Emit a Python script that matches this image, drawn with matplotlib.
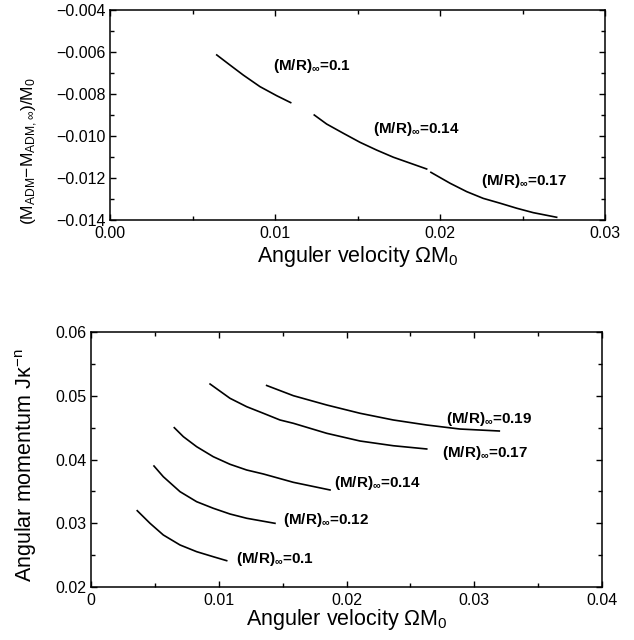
import matplotlib
matplotlib.use("Agg")
import matplotlib.pyplot as plt
from matplotlib.ticker import MultipleLocator

plt.rcParams['font.family'] = ['Liberation Sans', 'DejaVu Sans']
plt.rcParams['mathtext.fontset'] = 'custom'
plt.rcParams['mathtext.rm'] = 'Liberation Sans'
plt.rcParams['mathtext.it'] = 'Liberation Sans:italic'
plt.rcParams['mathtext.bf'] = 'Liberation Sans:bold'
plt.rcParams['mathtext.default'] = 'regular'

# ---------------- data: top panel (mass difference vs angular velocity)
top_seg1_x = [0.00647, 0.00727, 0.00808, 0.00909, 0.01010, 0.01095]
top_seg1_y = [-0.00614, -0.00662, -0.00710, -0.00765, -0.00808, -0.00841]
top_seg2_x = [0.01238, 0.01313, 0.01414, 0.01515, 0.01616, 0.01717, 0.01919]
top_seg2_y = [-0.00900, -0.00943, -0.00987, -0.01030, -0.01067, -0.01101, -0.01157]
top_seg3_x = [0.01945, 0.02061, 0.02162, 0.02262, 0.02364, 0.02465, 0.02565, 0.02707]
top_seg3_y = [-0.01173, -0.01225, -0.01265, -0.01297, -0.01320, -0.01344, -0.01365, -0.01387]
top_labels = ['0.1', '0.14', '0.17']
top_label_x = [0.00990, 0.01592, 0.02247]
top_label_y = [-0.00686, -0.00987, -0.01233]
top_xticks = [0.00, 0.01, 0.02, 0.03]
top_xticklabels = ['0.00', '0.01', '0.02', '0.03']
top_yticks = [-0.014, -0.012, -0.010, -0.008, -0.006, -0.004]
top_yticklabels = ['\u22120.014', '\u22120.012', '\u22120.010', '\u22120.008', '\u22120.006', '\u22120.004']

# ---------------- data: bottom panel (angular momentum vs angular velocity)
c010_x = [0.00362, 0.00462, 0.00566, 0.00697, 0.00827, 0.00957, 0.01062]
c010_y = [0.03197, 0.02999, 0.02816, 0.02659, 0.02554, 0.02475, 0.02413]
c012_x = [0.00493, 0.00566, 0.00697, 0.00827, 0.00957, 0.01088, 0.01219, 0.01440]
c012_y = [0.03898, 0.03730, 0.03495, 0.03338, 0.03235, 0.03145, 0.03078, 0.02999]
c014_x = [0.00652, 0.00723, 0.00827, 0.00957, 0.01088, 0.01219, 0.01349, 0.01584, 0.01871]
c014_y = [0.04499, 0.04358, 0.04201, 0.04044, 0.03925, 0.03835, 0.03773, 0.03642, 0.03522]
c017_x = [0.00932, 0.01088, 0.01219, 0.01349, 0.01479, 0.01584, 0.01845, 0.02106, 0.02366, 0.02628]
c017_y = [0.05184, 0.04960, 0.04828, 0.04725, 0.04620, 0.04568, 0.04411, 0.04290, 0.04216, 0.04165]
c019_x = [0.01375, 0.01584, 0.01845, 0.02106, 0.02366, 0.02628, 0.02888, 0.03196]
c019_y = [0.05161, 0.05001, 0.04855, 0.04725, 0.04620, 0.04541, 0.04478, 0.04447]
bot_labels = ['0.1', '0.12', '0.14', '0.17', '0.19']
bot_label_x = [0.01135, 0.01505, 0.01905, 0.02745, 0.02779]
bot_label_y = [0.02381, 0.02988, 0.03573, 0.04045, 0.04573]
bot_xticks = [0.00, 0.01, 0.02, 0.03, 0.04]
bot_xticklabels = ['0', '0.01', '0.02', '0.03', '0.04']
bot_yticks = [0.02, 0.03, 0.04, 0.05, 0.06]
bot_yticklabels = ['0.02', '0.03', '0.04', '0.05', '0.06']

W, H = 634, 640
fig = plt.figure(figsize=(W / 100, H / 100), dpi=100)

def style(ax):
    ax.tick_params(which='both', direction='in', top=True, right=True, labelsize=11.5,
                   width=1.0)
    ax.tick_params(axis='x', which='both', pad=4.5)
    ax.tick_params(axis='y', which='both', pad=3)
    ax.tick_params(which='major', length=4.5)
    ax.tick_params(which='minor', length=3)
    for s in ax.spines.values():
        s.set_linewidth(1.1)

def lab(v):
    return r'$\mathbf{(M/R)}_{\infty}$=' + v

# ---- top
ax1 = fig.add_axes([110 / W, 1 - 220 / H, (605 - 110) / W, 210 / H])
for xs, ys in [(top_seg1_x, top_seg1_y), (top_seg2_x, top_seg2_y), (top_seg3_x, top_seg3_y)]:
    ax1.plot(xs, ys, color='black', lw=1.2)
for t, x, y in zip(top_labels, top_label_x, top_label_y):
    ax1.text(x, y, lab(t), fontsize=11, fontweight='bold', va='baseline', ha='left')
ax1.set_xlim(0, 0.03)
ax1.set_ylim(-0.014, -0.004)
ax1.set_xticks(top_xticks)
ax1.set_xticklabels(top_xticklabels)
ax1.set_yticks(top_yticks)
ax1.set_yticklabels(top_yticklabels)
ax1.xaxis.set_minor_locator(MultipleLocator(0.005))
ax1.yaxis.set_minor_locator(MultipleLocator(0.001))
style(ax1)
ax1.set_xlabel(r'Anguler velocity $\Omega M_0$', fontsize=15.5, labelpad=2)
ax1.set_ylabel(r'$(M_{ADM}{-}M_{ADM,\infty})/M_0$', fontsize=12.5)
ax1.yaxis.set_label_coords((40 - 110) / 495, (220 - 151) / 210)

# ---- bottom
ax2 = fig.add_axes([91 / W, 1 - 587 / H, (602 - 91) / W, 255 / H])
for xs, ys in [(c010_x, c010_y), (c012_x, c012_y), (c014_x, c014_y),
               (c017_x, c017_y), (c019_x, c019_y)]:
    ax2.plot(xs, ys, color='black', lw=1.2)
for t, x, y in zip(bot_labels, bot_label_x, bot_label_y):
    ax2.text(x, y, lab(t), fontsize=11, fontweight='bold', va='baseline', ha='left')
ax2.set_xlim(0, 0.04)
ax2.set_ylim(0.02, 0.06)
ax2.set_xticks(bot_xticks)
ax2.set_xticklabels(bot_xticklabels)
ax2.set_yticks(bot_yticks)
ax2.set_yticklabels(bot_yticklabels)
ax2.xaxis.set_minor_locator(MultipleLocator(0.005))
ax2.yaxis.set_minor_locator(MultipleLocator(0.005))
style(ax2)
ax2.set_xlabel(r'Anguler velocity $\Omega M_0$', fontsize=15.5, labelpad=-1)
ax2.set_ylabel(r'Angular momentum J$\kappa^{-n}$', fontsize=15.5)
ax2.yaxis.set_label_coords((39 - 91) / 511, (587 - 465) / 255)

fig.savefig('out.png', dpi=100)
